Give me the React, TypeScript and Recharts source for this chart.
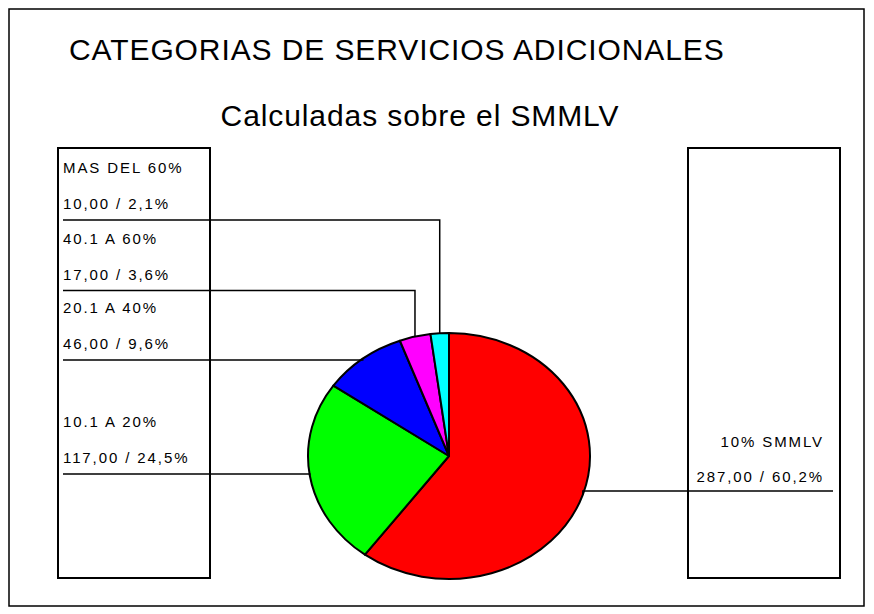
import { Pie, PieChart } from 'recharts'

const names = ['10% SMMLV', '10.1 A 20%', '20.1 A 40%', '40.1 A 60%', 'MAS DEL 60%']
const counts = [287, 117, 46, 17, 10]
const colors = ['#ff0000', '#00ff00', '#0000ff', '#ff00ff', '#00ffff']

// layout of the label boxes (y of each leader row), not data
const rowY = [491, 474, 360, 290.5, 220]
const SQUASH = 0.872
const FONT = '"Liberation Sans", Arial, sans-serif'

const total = counts.reduce((a, b) => a + b, 0)
const data = names.map((name, i) => ({ name, value: counts[i], fill: colors[i] }))

const fmt = (v: number) => `${v.toFixed(2).replace('.', ',')} / ${((v / total) * 100).toFixed(1).replace('.', ',')}%`

const RAD = Math.PI / 180

function EllipseSector(props: any) {
  const { cx, cy, outerRadius, startAngle, endAngle, fill } = props
  const rx = outerRadius
  const ry = outerRadius * SQUASH
  const pt = (a: number) => [cx + rx * Math.cos(a * RAD), cy - ry * Math.sin(a * RAD)]
  const [x1, y1] = pt(startAngle)
  const [x2, y2] = pt(endAngle)
  const large = Math.abs(endAngle - startAngle) > 180 ? 1 : 0
  const d = `M${cx},${cy} L${x1},${y1} A${rx},${ry} 0 ${large} 1 ${x2},${y2} Z`
  return <path d={d} fill={fill} stroke="#000" strokeWidth={2} strokeLinejoin="round" />
}

function SideLabel(props: any) {
  const { cx, cy, midAngle, outerRadius, index, value, name } = props
  const ex = cx + outerRadius * Math.cos(midAngle * RAD)
  const ey = cy - outerRadius * SQUASH * Math.sin(midAngle * RAD)
  const y = rowY[index]
  const right = index === 0
  const x0 = right ? 833 : 63
  const tx = right ? 824 : 63
  const anchor = right ? 'end' : 'start'
  return (
    <g>
      <path d={`M${x0},${y} H${ex} V${ey}`} fill="none" stroke="#000" strokeWidth={1.5} />
      <text x={tx} y={y - (right ? 44 : 47)} textAnchor={anchor} fontSize={15} letterSpacing={1.9} fontFamily={FONT} fill="#000">
        {name}
      </text>
      <text x={tx} y={y - (right ? 9 : 11)} textAnchor={anchor} fontSize={15} letterSpacing={1.9} fontFamily={FONT} fill="#000">
        {fmt(value)}
      </text>
    </g>
  )
}

export default function App() {
  return (
    <div style={{ position: 'absolute', left: 0, top: 0, width: 874, height: 614, background: '#fff' }}>
      <svg width={874} height={614} style={{ position: 'absolute', left: 0, top: 0 }}>
        <rect x={9} y={9} width={855} height={597} fill="none" stroke="#000" strokeWidth={1.5} />
        <text x={69} y={60} fontSize={30} letterSpacing={0.9} fontFamily={FONT} fill="#000">CATEGORIAS DE SERVICIOS ADICIONALES</text>
        <text x={420} y={126} fontSize={30} letterSpacing={0.9} fontFamily={FONT} fill="#000" textAnchor="middle">Calculadas sobre el SMMLV</text>
        <rect x={58} y={148} width={152} height={430} fill="none" stroke="#000" strokeWidth={2} />
        <rect x={688} y={148} width={152} height={430} fill="none" stroke="#000" strokeWidth={2} />
      </svg>
      <div style={{ position: 'absolute', left: 0, top: 0 }}>
        <PieChart width={874} height={614} margin={{ top: 0, right: 0, bottom: 0, left: 0 }}>
          <Pie
            data={data}
            dataKey="value"
            nameKey="name"
            cx={449}
            cy={456}
            outerRadius={141}
            startAngle={90}
            endAngle={-270}
            shape={EllipseSector}
            label={SideLabel}
            labelLine={false}
            isAnimationActive={false}
          />
        </PieChart>
      </div>
    </div>
  )
}
